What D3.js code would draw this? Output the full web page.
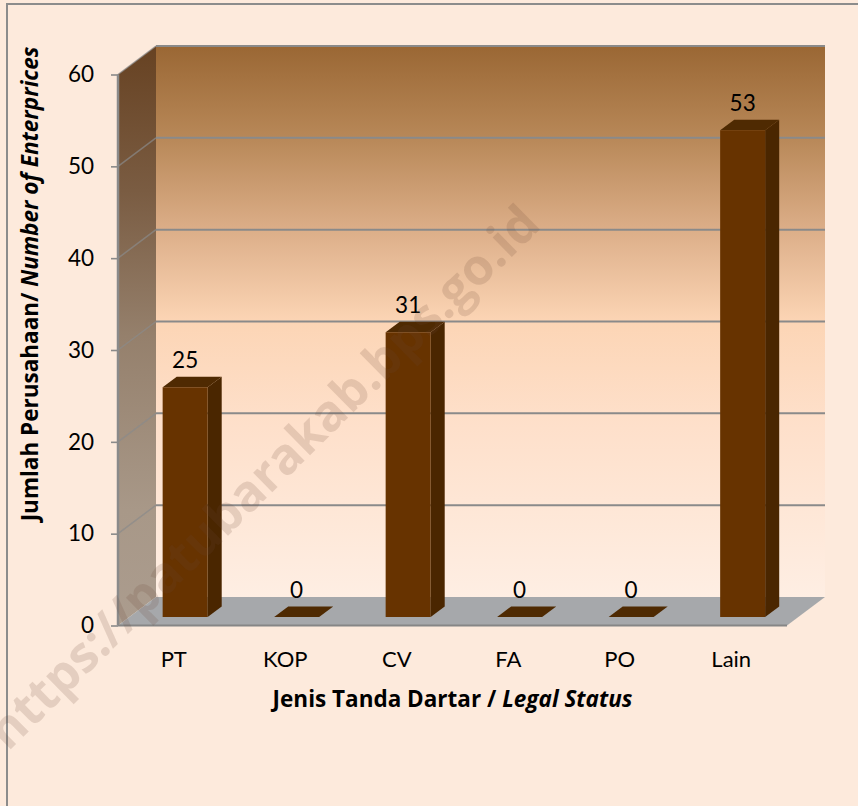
<!DOCTYPE html>
<html><head><meta charset="utf-8">
<style>html,body{margin:0;padding:0;background:#fdeadc}svg{display:block}text{font-family:Lato,"Open Sans",sans-serif;fill:#000}</style>
<script src="https://cdn.jsdelivr.net/npm/d3@7"></script></head><body>
<svg id="c" width="858" height="806"></svg>
<script>
const categories=["PT","KOP","CV","FA","PO","Lain"];
const values=[25,0,31,0,0,53];
const yTicks=[0,10,20,30,40,50,60];
const yTitle="Jumlah Perusahaan/ ";
const yTitleItalic="Number of Enterprices";
const xTitle="Jenis Tanda Dartar / ";
const xTitleItalic="Legal Status";
const watermark="https://patubarakab.bps.go.id";

const W=858,H=806;
const svg=d3.select("#c");
const x=d3.scaleBand().domain(categories).range([118,787]);
const y=d3.scaleLinear().domain([0,60]).range([625.5,74.5]);
const zx=d3.scaleLinear().domain([0,1]).range([0,38]);
const zy=d3.scaleLinear().domain([0,1]).range([0,-28.5]);
const P=(px,py,z)=>[px+zx(z),py+zy(z)];
const poly=a=>a.map(p=>p.join(",")).join(" ");
const defs=svg.append("defs");
const wall=defs.append("linearGradient").attr("id","wall").attr("x1",0).attr("x2",0).attr("y1",0).attr("y2",1);
[[0,"#9a6734"],[0.167,"#b88858"],[0.333,"#dcae88"],[0.5,"#fcd5b5"],[0.67,"#fedfc9"],[1,"#feeee3"]].forEach(s=>wall.append("stop").attr("offset",s[0]).attr("stop-color",s[1]));
const side=defs.append("linearGradient").attr("id","side").attr("x1",0).attr("x2",0).attr("y1",0).attr("y2",1);
[[0,"#674222"],[0.25,"#7a5c42"],[0.5,"#95806c"],[0.8,"#a89888"],[1,"#ab9c8e"]].forEach(s=>side.append("stop").attr("offset",s[0]).attr("stop-color",s[1]));

// page border
svg.append("path").attr("d",`M7,${H}V4H${W}`).attr("fill","none").attr("stroke","#8c8c8c").attr("stroke-width",2);

const X0=x.range()[0],X1=x.range()[1],Y0=y(0),Y1=y(60);
// back wall and side wall
svg.append("polygon").attr("points",poly([P(X0,Y1,1),P(X1,Y1,1),P(X1,Y0,1),P(X0,Y0,1)])).attr("fill","url(#wall)");
svg.append("polygon").attr("points",poly([P(X0,Y1,0),P(X0,Y1,1),P(X0,Y0,1),P(X0,Y0,0)])).attr("fill","url(#side)");
// floor
svg.append("polygon").attr("points",poly([P(X0,Y0,0),P(X1,Y0,0),P(X1,Y0,1),P(X0,Y0,1)])).attr("fill","#a6a8ab");
svg.append("line").attr("x1",X0).attr("x2",X1).attr("y1",Y0).attr("y2",Y0).attr("stroke","#868686").attr("stroke-width",2);
// gridlines
const gridColor="#8a8a8a";
yTicks.filter(t=>t>0).forEach(t=>{
  const a=P(X0,y(t),0),b=P(X0,y(t),1),c=P(X1,y(t),1);
  svg.append("line").attr("x1",a[0]).attr("y1",a[1]).attr("x2",b[0]).attr("y2",b[1]).attr("stroke",gridColor).attr("stroke-opacity",0.7).attr("stroke-width",1.5);
  svg.append("line").attr("x1",b[0]).attr("y1",b[1]).attr("x2",c[0]).attr("y2",c[1]).attr("stroke",gridColor).attr("stroke-width",2);
});
// y axis line and ticks
svg.append("line").attr("x1",X0).attr("x2",X0).attr("y1",Y1).attr("y2",Y0).attr("stroke",gridColor).attr("stroke-width",2.5);
const axis=svg.append("g").attr("transform",`translate(${X0},0)`).call(d3.axisLeft(y).tickValues(yTicks).tickSize(7).tickPadding(17).tickFormat(d3.format("d")));
axis.select(".domain").remove();
axis.selectAll(".tick line").attr("stroke",gridColor).attr("stroke-width",1.6);
axis.selectAll("text").attr("font-size",22.5).style("font-family","Lato,sans-serif").attr("fill","#000");
// bars
const zA=0.3,zB=0.67,barW=45;
categories.forEach((c,i)=>{
  const v=values[i];
  const L=x(c)+x.bandwidth()/2-barW/2, R=L+barW, T=y(v);
  svg.append("polygon").attr("points",poly([P(R,Y0,zA),P(R,Y0,zB),P(R,T,zB),P(R,T,zA)])).attr("fill","#4a2600");
  svg.append("polygon").attr("points",poly([P(L,T,zA),P(R,T,zA),P(R,T,zB),P(L,T,zB)])).attr("fill","#4f2a02");
  if(v>0) svg.append("polygon").attr("points",poly([P(L,Y0,zA),P(R,Y0,zA),P(R,T,zA),P(L,T,zA)])).attr("fill","#673300");
  const cx=P((L+R)/2,T,zA)[0], cy=P((L+R)/2,T,zB)[1];
  svg.append("text").attr("x",cx).attr("y",cy-8.5).attr("text-anchor","middle").attr("font-size",22.5).text(v);
  svg.append("text").attr("x",x(c)+x.bandwidth()/2).attr("y",667).attr("text-anchor","middle").attr("font-size",22).text(c);
});
// titles
const bold="'Open Sans',sans-serif";
const xt=svg.append("text").attr("x",452.5).attr("y",707).attr("text-anchor","middle").attr("font-size",22.5).attr("font-weight","700").style("font-family",bold).text(xTitle);
xt.append("tspan").attr("font-style","italic").text(xTitleItalic);
const yt=svg.append("text").attr("transform","translate(38,284) rotate(-90)").attr("text-anchor","middle").attr("font-size",22.5).attr("font-weight","700").style("font-family",bold).text(yTitle);
yt.append("tspan").attr("font-style","italic").text(yTitleItalic);
// watermark
svg.append("text").attr("transform","translate(8,752) rotate(-44.5)").attr("font-size",50).attr("font-weight","700").style("font-family",bold).style("fill","#6b4a38").style("fill-opacity",0.17).text(watermark);
</script></body></html>
